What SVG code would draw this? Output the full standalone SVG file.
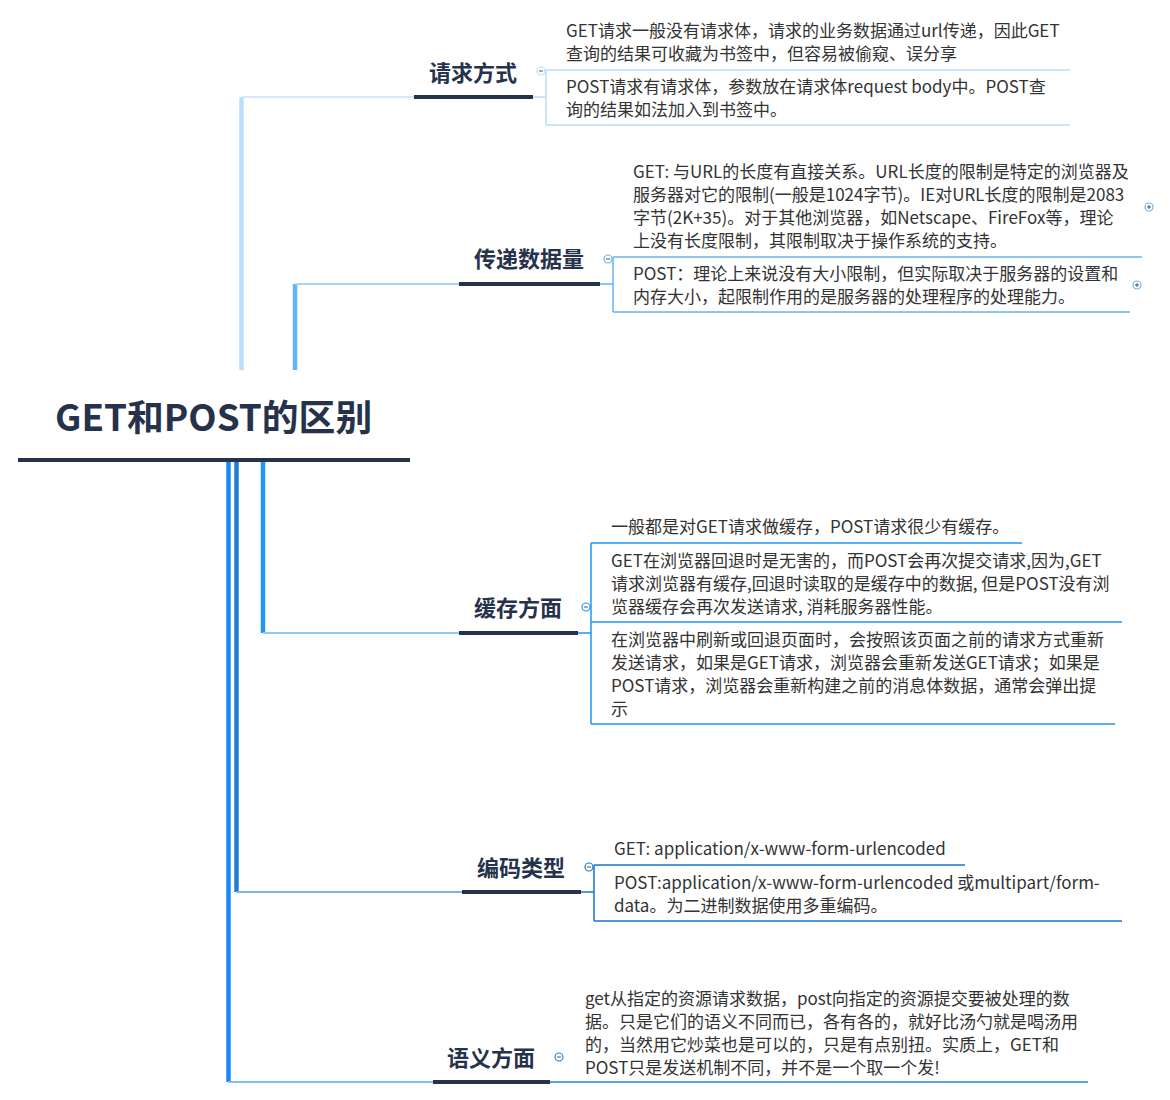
<svg xmlns="http://www.w3.org/2000/svg" width="1170" height="1100" viewBox="0 0 1170 1100">
<style>
.root{font-family:"Noto Sans CJK SC","Noto Sans",sans-serif;font-weight:bold;font-size:36.8px;fill:#26324b}
.topic{font-family:"Noto Sans CJK SC","Noto Sans",sans-serif;font-weight:bold;font-size:22px;fill:#26324b}
.t{font-family:"Noto Sans CJK SC","Noto Sans",sans-serif;font-size:17px;fill:#333333}
.ul{stroke:#26324b;stroke-width:4;fill:none}
.tog{fill:#ffffff;stroke-width:1.2}
.sym{stroke:#555;stroke-width:1;fill:none}
</style>
<rect width="1170" height="1100" fill="#ffffff"/>
<g id="connectors" fill="none">
  <!-- branch 1 -->
  <path d="M241.5,370 V97" stroke="#bbdefb" stroke-width="4.5"/>
  <path d="M241.5,97 H414" stroke="#d4e9fb" stroke-width="2"/>
  <path d="M533,97 H546 M546,70 V125 M546,70 H1070 M546,125 H1070" stroke="#bbdefb" stroke-width="1.5"/>
  <!-- branch 2 -->
  <path d="M295,370 V284" stroke="#64b5f6" stroke-width="4.5"/>
  <path d="M295,284 H459" stroke="#a6d3f9" stroke-width="2"/>
  <path d="M600,284 H613 M613,257 V312 M613,257 H1142 M613,312 H1130" stroke="#64b5f6" stroke-width="1.5"/>
  <!-- branch 3 -->
  <path d="M263,462 V633" stroke="#2196f3" stroke-width="4.5"/>
  <path d="M263,633 H459" stroke="#8fcaf8" stroke-width="2"/>
  <path d="M578,633 H591 M591,543 V724 M591,543 H1022 M591,622 H1122 M591,724 H1115" stroke="#2196f3" stroke-width="1.5"/>
  <!-- branch 4 -->
  <path d="M236.5,462 V892" stroke="#1f7bd8" stroke-width="4.5"/>
  <path d="M236.5,892 H462" stroke="#7fb4ea" stroke-width="2"/>
  <path d="M581,892 H594 M594,865 V921 M594,865 H965 M594,921 H1122" stroke="#1976d2" stroke-width="1.5"/>
  <!-- branch 5 -->
  <path d="M228.5,462 V1082" stroke="#1a88f8" stroke-width="4.5"/>
  <path d="M228.5,1082 H433" stroke="#80bff5" stroke-width="2"/>
  <path d="M550,1082 H1088" stroke="#1e88e5" stroke-width="1.5"/>
</g>
<g id="root">
  <text class="root" x="55" y="431">GET和POST的区别</text>
  <path class="ul" d="M18,460 H410" stroke-width="4.5"/>
</g>
<g id="topic-qingqiu">
  <text class="topic" x="429" y="81">请求方式</text>
  <path class="ul" d="M414,97 H533"/>
  <circle class="tog" cx="541" cy="71" r="4" stroke="#bbdefb"/>
  <path class="sym" d="M539,71 H543" stroke="#9bbfe0"/>
</g>
<g id="n1a">
  <text class="t" x="566" y="37">GET请求一般没有请求体，请求的业务数据通过url传递，因此GET</text>
  <text class="t" x="566" y="60">查询的结果可收藏为书签中，但容易被偷窥、误分享</text>
</g>
<g id="n1b">
  <text class="t" x="566" y="93">POST请求有请求体，参数放在请求体request body中。POST查</text>
  <text class="t" x="566" y="116">询的结果如法加入到书签中。</text>
</g>
<g id="topic-chuandi">
  <text class="topic" x="474" y="267">传递数据量</text>
  <path class="ul" d="M459,284 H600"/>
  <circle class="tog" cx="608" cy="259" r="4" stroke="#64b5f6"/>
  <path class="sym" d="M606,259 H610" stroke="#6a9fd0"/>
</g>
<g id="n2a">
  <text class="t" x="633" y="178">GET: 与URL的长度有直接关系。URL长度的限制是特定的浏览器及</text>
  <text class="t" x="633" y="201">服务器对它的限制(一般是1024字节)。IE对URL长度的限制是2083</text>
  <text class="t" x="633" y="224">字节(2K+35)。对于其他浏览器，如Netscape、FireFox等，理论</text>
  <text class="t" x="633" y="247">上没有长度限制，其限制取决于操作系统的支持。</text>
  <circle class="tog" cx="1149" cy="207" r="4" stroke="#64b5f6"/>
  <path class="sym" d="M1147,207 H1151 M1149,205 V209" stroke="#26324b"/>
</g>
<g id="n2b">
  <text class="t" x="633" y="280">POST：理论上来说没有大小限制，但实际取决于服务器的设置和</text>
  <text class="t" x="633" y="303">内存大小，起限制作用的是服务器的处理程序的处理能力。</text>
  <circle class="tog" cx="1137" cy="285" r="4" stroke="#64b5f6"/>
  <path class="sym" d="M1135,285 H1139 M1137,283 V287" stroke="#26324b"/>
</g>
<g id="topic-huancun">
  <text class="topic" x="474" y="616">缓存方面</text>
  <path class="ul" d="M459,633 H578"/>
  <circle class="tog" cx="586" cy="607" r="4" stroke="#2196f3"/>
  <path class="sym" d="M584,607 H588" stroke="#2196f3"/>
</g>
<g id="n3a">
  <text class="t" x="611" y="533">一般都是对GET请求做缓存，POST请求很少有缓存。</text>
</g>
<g id="n3b">
  <text class="t" x="611" y="567">GET在浏览器回退时是无害的，而POST会再次提交请求,因为,GET</text>
  <text class="t" x="611" y="590">请求浏览器有缓存,回退时读取的是缓存中的数据, 但是POST没有浏</text>
  <text class="t" x="611" y="613">览器缓存会再次发送请求, 消耗服务器性能。</text>
</g>
<g id="n3c">
  <text class="t" x="611" y="646">在浏览器中刷新或回退页面时，会按照该页面之前的请求方式重新</text>
  <text class="t" x="611" y="669">发送请求，如果是GET请求，浏览器会重新发送GET请求；如果是</text>
  <text class="t" x="611" y="692">POST请求，浏览器会重新构建之前的消息体数据，通常会弹出提</text>
  <text class="t" x="611" y="715">示</text>
</g>
<g id="topic-bianma">
  <text class="topic" x="477" y="876">编码类型</text>
  <path class="ul" d="M462,892 H581"/>
  <circle class="tog" cx="589" cy="867" r="4" stroke="#1976d2"/>
  <path class="sym" d="M587,867 H591" stroke="#1976d2"/>
</g>
<g id="n4a">
  <text class="t" x="614" y="855">GET: application/x-www-form-urlencoded</text>
</g>
<g id="n4b">
  <text class="t" x="614" y="889">POST:application/x-www-form-urlencoded 或multipart/form-</text>
  <text class="t" x="614" y="912">data。为二进制数据使用多重编码。</text>
</g>
<g id="topic-yuyi">
  <text class="topic" x="447" y="1066">语义方面</text>
  <path class="ul" d="M433,1082 H550"/>
  <circle class="tog" cx="559" cy="1057" r="4" stroke="#1e88e5"/>
  <path class="sym" d="M557,1057 H561" stroke="#1e88e5"/>
</g>
<g id="n5a">
  <text class="t" x="585" y="1005">get从指定的资源请求数据，post向指定的资源提交要被处理的数</text>
  <text class="t" x="585" y="1028">据。只是它们的语义不同而已，各有各的，就好比汤勺就是喝汤用</text>
  <text class="t" x="585" y="1051">的，当然用它炒菜也是可以的，只是有点别扭。实质上，GET和</text>
  <text class="t" x="585" y="1074">POST只是发送机制不同，并不是一个取一个发!</text>
</g>
</svg>
